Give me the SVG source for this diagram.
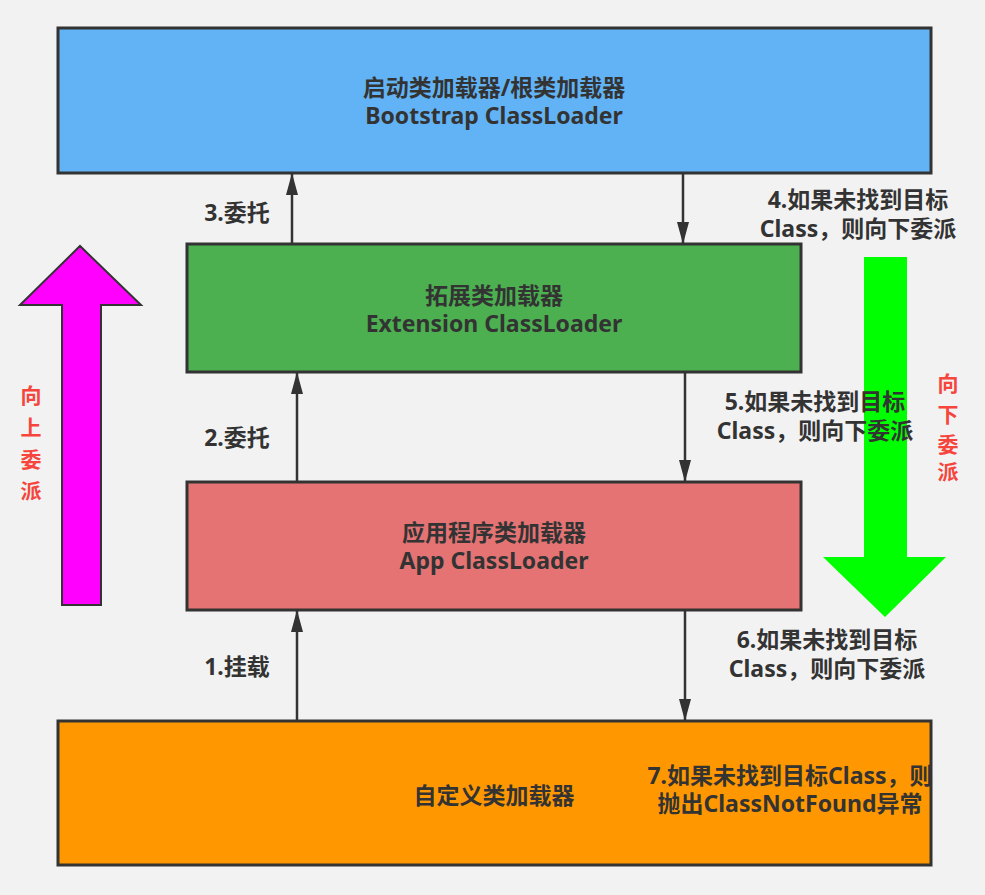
<svg xmlns="http://www.w3.org/2000/svg" width="985" height="895" viewBox="0 0 985 895">
<defs>
<marker id="ah" markerWidth="22" markerHeight="12" viewBox="0 0 22 12" refX="21" refY="6" orient="auto" markerUnits="userSpaceOnUse">
<path d="M0,0 L22,6 L0,12 Z" fill="#333"/>
</marker>
<style>
.box{stroke:#333;stroke-width:3}
.t{font-family:"Noto Sans","Noto Sans CJK SC",sans-serif;font-weight:bold;font-size:23px;fill:#333;text-anchor:middle}
.r{font-family:"Noto Sans CJK SC",sans-serif;font-weight:bold;font-size:21px;fill:#F5453D;text-anchor:middle}
.c{stroke:#333;stroke-width:2.5;fill:none;marker-end:url(#ah)}
</style>
</defs>
<rect width="985" height="895" fill="#f2f2f2"/>
<g id="bigarrows">
<path d="M62,605 L62,305 L20,305 L80,246 L141,305 L101,305 L101,605 Z" fill="#ff00ff" stroke="#333" stroke-width="2"/>
<path d="M864,257 L907,257 L907,557 L946,557 L885,617 L823,557 L864,557 Z" fill="#00ff00"/>
</g>
<g id="bootstrap">
<rect class="box" x="58" y="28" width="873" height="145" fill="#62b3f5"/>
<text class="t" x="494" y="96">启动类加载器/根类加载器</text>
<text class="t" x="494" y="124">Bootstrap ClassLoader</text>
</g>
<g id="extension">
<rect class="box" x="187" y="244" width="614" height="128" fill="#4caf50"/>
<text class="t" x="494" y="304">拓展类加载器</text>
<text class="t" x="494" y="332">Extension ClassLoader</text>
</g>
<g id="app">
<rect class="box" x="187" y="482" width="614" height="128" fill="#e57373"/>
<text class="t" x="494" y="541">应用程序类加载器</text>
<text class="t" x="494" y="569">App ClassLoader</text>
</g>
<g id="custom">
<rect class="box" x="58" y="721" width="873" height="144" fill="#ff9800"/>
<text class="t" x="494" y="804">自定义类加载器</text>
</g>
<g id="connectors">
<line class="c" x1="292" y1="244" x2="292" y2="174"/>
<line class="c" x1="683" y1="173" x2="683" y2="243"/>
<line class="c" x1="297" y1="482" x2="297" y2="373"/>
<line class="c" x1="685" y1="372" x2="685" y2="481"/>
<line class="c" x1="297" y1="721" x2="297" y2="611"/>
<line class="c" x1="685" y1="610" x2="685" y2="720"/>
</g>
<g id="labels">
<text class="t" x="237" y="221">3.委托</text>
<text class="t" x="237" y="446">2.委托</text>
<text class="t" x="237" y="675">1.挂载</text>
<text class="t" x="858" y="208">4.如果未找到目标</text>
<text class="t" x="858" y="237">Class，则向下委派</text>
<text class="t" x="815" y="410">5.如果未找到目标</text>
<text class="t" x="815" y="439">Class，则向下委派</text>
<text class="t" x="827" y="648">6.如果未找到目标</text>
<text class="t" x="827" y="677">Class，则向下委派</text>
<text class="t" x="790" y="784">7.如果未找到目标Class，则</text>
<text class="t" x="790" y="812">抛出ClassNotFound异常</text>
<text class="r" x="31" y="403">向</text>
<text class="r" x="31" y="435">上</text>
<text class="r" x="31" y="467">委</text>
<text class="r" x="31" y="498">派</text>
<text class="r" x="948" y="391">向</text>
<text class="r" x="948" y="422">下</text>
<text class="r" x="948" y="452">委</text>
<text class="r" x="948" y="479">派</text>
</g>
</svg>
